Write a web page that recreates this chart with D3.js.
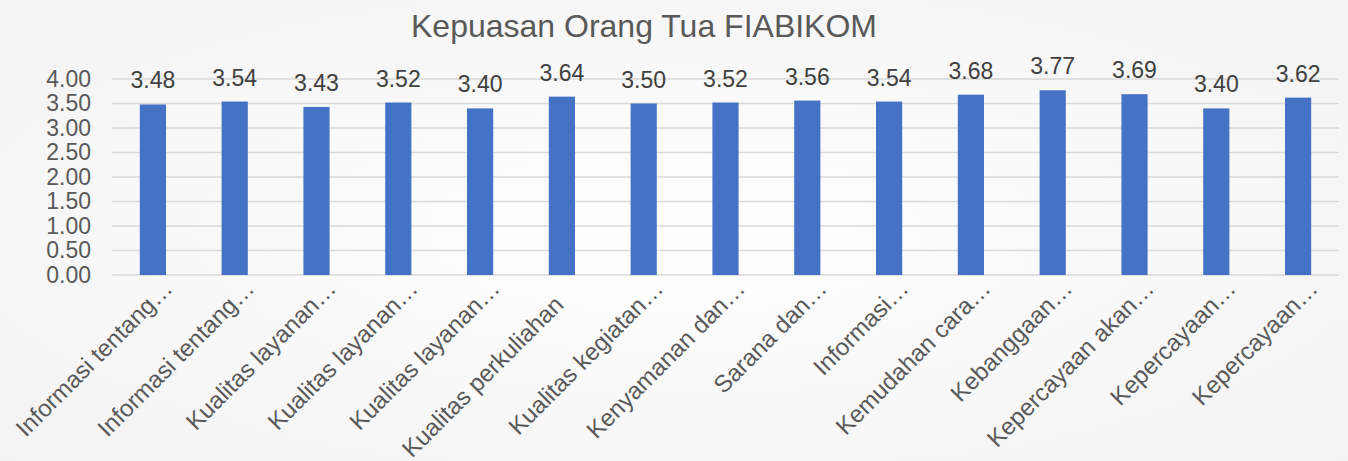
<!DOCTYPE html>
<html>
<head>
<meta charset="utf-8">
<script src="https://cdnjs.cloudflare.com/ajax/libs/d3/7.8.5/d3.min.js"></script>
<style>
  body { margin: 0; background: #f7f7f7; }
  text { font-family: "Liberation Sans", Arial, sans-serif; }
</style>
</head>
<body>
<div class="chart"></div>
<script>
var categories = [
  "Informasi tentang…", "Informasi tentang…", "Kualitas layanan…",
  "Kualitas layanan…", "Kualitas layanan…", "Kualitas perkuliahan",
  "Kualitas kegiatan…", "Kenyamanan dan…", "Sarana dan…", "Informasi…",
  "Kemudahan cara…", "Kebanggaan…", "Kepercayaan akan…", "Kepercayaan…",
  "Kepercayaan…"
];
var values = [3.48, 3.54, 3.43, 3.52, 3.40, 3.64, 3.50, 3.52, 3.56, 3.54, 3.68, 3.77, 3.69, 3.40, 3.62];
var yTicks = [0, 0.5, 1, 1.5, 2, 2.5, 3, 3.5, 4];
var title = "Kepuasan Orang Tua FIABIKOM";

var svgWidth = 1348;
var svgHeight = 461;

var margin = { top: 79, right: 10, bottom: 186, left: 112 };
var width = 1339 - margin.left;
var height = 275 - margin.top;

var svg = d3.select(".chart")
  .append("svg")
  .attr("width", svgWidth)
  .attr("height", svgHeight);

var grad = svg.append("defs").append("radialGradient")
  .attr("id", "bg")
  .attr("cx", "50%").attr("cy", "50%").attr("r", "75%");
grad.append("stop").attr("offset", "0%").attr("stop-color", "#ffffff");
grad.append("stop").attr("offset", "100%").attr("stop-color", "#f2f2f2");

svg.append("rect")
  .attr("width", svgWidth)
  .attr("height", svgHeight)
  .attr("fill", "url(#bg)");

svg.append("text")
  .attr("x", 644)
  .attr("y", 37)
  .attr("text-anchor", "middle")
  .attr("fill", "#595959")
  .style("font-size", "32px")
  .text(title);

var chartGroup = svg.append("g")
  .attr("transform", `translate(${margin.left}, ${margin.top})`);

var xScale = d3.scaleBand()
  .domain(d3.range(categories.length))
  .range([0, width])
  .paddingInner(0.68)
  .paddingOuter(0.34);

var yScale = d3.scaleLinear()
  .domain([0, 4])
  .range([height, 0]);

// gridlines
chartGroup.append("g")
  .selectAll("line")
  .data(yTicks)
  .enter()
  .append("line")
  .attr("x1", 0)
  .attr("x2", width)
  .attr("y1", d => yScale(d))
  .attr("y2", d => yScale(d))
  .attr("stroke", "#d9d9d9")
  .attr("stroke-width", 1.5);

// y axis labels
var leftAxis = d3.axisLeft(yScale)
  .tickValues(yTicks)
  .tickFormat(d3.format(".2f"))
  .tickSize(0)
  .tickPadding(21);

var yAxisG = chartGroup.append("g").call(leftAxis);
yAxisG.select(".domain").remove();
yAxisG.selectAll("text")
  .attr("fill", "#595959")
  .style("font-size", "23px")
  .style("font-family", "'Liberation Sans', Arial, sans-serif");

// bars
chartGroup.selectAll("rect.bar")
  .data(values)
  .enter()
  .append("rect")
  .attr("class", "bar")
  .attr("x", (d, i) => xScale(i))
  .attr("y", d => yScale(d))
  .attr("width", xScale.bandwidth())
  .attr("height", d => height - yScale(d))
  .attr("fill", "#4472c4");

// value labels
chartGroup.selectAll("text.val")
  .data(values)
  .enter()
  .append("text")
  .attr("class", "val")
  .attr("x", (d, i) => xScale(i) + xScale.bandwidth() / 2)
  .attr("y", d => yScale(d) - 16)
  .attr("text-anchor", "middle")
  .attr("fill", "#404040")
  .style("font-size", "23px")
  .text(d => d.toFixed(2));

// category labels
chartGroup.selectAll("text.cat")
  .data(categories)
  .enter()
  .append("text")
  .attr("class", "cat")
  .attr("text-anchor", "end")
  .attr("fill", "#595959")
  .style("font-size", "24px")
  .attr("transform", function(d, i) {
    var cx = xScale(i) + xScale.bandwidth() / 2;
    var trunc = d.endsWith("…");
    var dx = trunc ? 21 : 3;
    var dy = trunc ? 15 : 31;
    return `translate(${cx + dx}, ${height + dy}) rotate(-45)`;
  })
  .text(d => d);
</script>
</body>
</html>
